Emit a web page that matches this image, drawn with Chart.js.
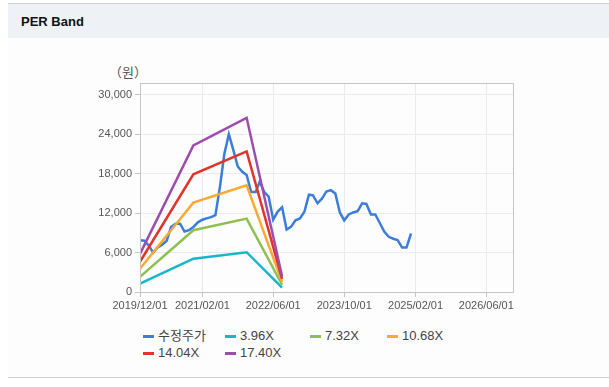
<!DOCTYPE html>
<html>
<head>
<meta charset="utf-8">
<script src="https://cdn.jsdelivr.net/npm/chart.js@4.4.1/dist/chart.umd.min.js"></script>
<style>
  body { margin: 0; background: #fff; font-family: "Liberation Sans", Arial, "Noto Sans CJK KR", sans-serif; }
  .box { position: absolute; left: 8px; top: 3px; width: 601px; height: 373px;
         border-top: 1px solid #d0d0d0; border-bottom: 1px solid #d0d0d0; background: #fdfdfd; }
  .head { height: 34px; background: #eef2f7; line-height: 36px; padding-left: 13px;
          font-weight: bold; font-size: 13px; color: #111; }
  #chartWrap { position: absolute; left: 0; top: 40px; width: 609px; height: 280px; }
  .unit { position: absolute; left: 109px; top: 62px; font-size: 13px; color: #555;
          font-family: "Noto Sans CJK KR", sans-serif; }
  .legend { position: absolute; left: 143px; top: 328px; display: grid;
            grid-template-columns: 82px 85px 77px auto; row-gap: 1px;
            font-size: 13px; color: #444; line-height: 16px; }
  .legend span.item { display: flex; align-items: center; white-space: nowrap; }
  .legend i { display: inline-block; width: 11px; height: 3px; margin-right: 4px; }
</style>
</head>
<body>
<div class="box"><div class="head">PER Band</div></div>
<div class="unit">（원）</div>
<div id="chartWrap"><canvas id="perBand" width="609" height="280"></canvas></div>
<div class="legend" id="legend"></div>

<script>
  // axis
  const xTickDates = ['2019/12/01', '2021/02/01', '2022/06/01', '2023/10/01', '2025/02/01', '2026/06/01'];
  const xMinDate = '2019/12/01';
  const xMaxDate = '2026/12/01';
  const yTicks = [0, 6000, 12000, 18000, 24000, 30000];

  // 수정주가, monthly from 2019/12
  const priceStart = '2019/12';
  const priceValues = [
    7870, 7800, 7000, 6000, 6800, 7200, 7800, 9900, 10400, 10400,
    9200, 9400, 9900, 10600, 11000, 11200, 11400, 11700, 16000, 21000,
    24000, 21600, 19100, 18300, 17800, 15200, 15200, 16800, 15200, 14500,
    11000, 12200, 12900, 9500, 9900, 10900, 11200, 12200, 14800, 14700,
    13500, 14200, 15300, 15500, 15000, 12100, 10900, 11800, 12100, 12300,
    13500, 13400, 11800, 11800, 10500, 9200, 8400, 8100, 7900, 6760,
    6760, 8900
  ];

  // PER band lines
  const bandDates = ['2019/12', '2020/12', '2021/12', '2022/08'];
  const band396 = [1290, 5070, 6050, 650];
  const band732 = [2300, 9400, 11170, 1100];
  const band1068 = [3550, 13600, 16250, 1550];
  const band1404 = [4600, 17900, 21400, 2000];
  const band1740 = [5800, 22300, 26500, 2400];

  const colors = {
    price: '#3a7ddb',
    b396: '#19b5c9',
    b732: '#8dc04f',
    b1068: '#f8aa35',
    b1404: '#e3342c',
    b1740: '#9c4dad'
  };

  function toDay(s) {
    const p = s.split('/').map(Number);
    return Date.UTC(p[0], p[1] - 1, p[2] || 1) / 86400000;
  }
  function dayLabel(d) {
    const dt = new Date(Math.round(d) * 86400000);
    const mm = String(dt.getUTCMonth() + 1).padStart(2, '0');
    const dd = String(dt.getUTCDate()).padStart(2, '0');
    return dt.getUTCFullYear() + '/' + mm + '/' + dd;
  }
  function monthKey(start, i) {
    const p = start.split('/').map(Number);
    const m = p[0] * 12 + (p[1] - 1) + i;
    return Math.floor(m / 12) + '/' + ((m % 12) + 1);
  }

  const pricePoints = priceValues.map((v, i) => ({ x: toDay(monthKey(priceStart, i)), y: v }));
  const bandPoints = vals => vals.map((v, i) => ({ x: toDay(bandDates[i]), y: v }));

  const line = (label, data, color) => ({
    label: label, data: data, borderColor: color, backgroundColor: color,
    borderWidth: 2.5, pointRadius: 0, tension: 0, fill: false
  });

  // bands first so that index 0.. draw on top of the price line
  const datasets = [
    line('17.40X', bandPoints(band1740), colors.b1740),
    line('14.04X', bandPoints(band1404), colors.b1404),
    line('10.68X', bandPoints(band1068), colors.b1068),
    line('7.32X', bandPoints(band732), colors.b732),
    line('3.96X', bandPoints(band396), colors.b396),
    line('수정주가', pricePoints, colors.price)
  ];

  // plot frame
  const frame = {
    id: 'frame',
    afterDraw(chart) {
      const a = chart.chartArea, c = chart.ctx;
      c.save();
      c.strokeStyle = '#c4c4c4';
      c.lineWidth = 1;
      c.strokeRect(Math.round(a.left) + 0.5, Math.round(a.top) + 0.5,
        Math.round(a.right - a.left), Math.round(a.bottom - a.top));
      c.restore();
    }
  };

  const tickFont = { family: '"Liberation Sans", Arial, sans-serif', size: 11 };

  new Chart(document.getElementById('perBand').getContext('2d'), {
    type: 'line',
    data: { datasets: datasets },
    options: {
      responsive: false,
      animation: false,
      parsing: true,
      layout: { padding: { top: 43, right: 96, left: 0, bottom: 0 } },
      plugins: { legend: { display: false }, tooltip: { enabled: false } },
      scales: {
        x: {
          type: 'linear',
          min: toDay(xMinDate),
          max: toDay(xMaxDate),
          afterBuildTicks: s => { s.ticks = xTickDates.map(d => ({ value: toDay(d) })); },
          afterFit: s => { s.height = 28; },
          grid: { color: '#ebebeb', tickLength: 5, tickColor: '#c4c4c4' },
          border: { color: '#c4c4c4' },
          ticks: { autoSkip: false, maxRotation: 0, padding: 2, color: '#555', font: tickFont,
                   callback: v => dayLabel(v) }
        },
        y: {
          min: 0,
          max: 31800,
          afterBuildTicks: s => { s.ticks = yTicks.map(v => ({ value: v })); },
          afterFit: s => { s.width = 140; },
          grid: { color: '#ebebeb', tickLength: 5, tickColor: '#c4c4c4' },
          border: { color: '#c4c4c4' },
          ticks: { padding: 3, color: '#555', font: tickFont,
                   callback: v => v.toLocaleString('en-US') }
        }
      }
    },
    plugins: [frame]
  });

  // legend in the reference's column layout
  const legendOrder = ['수정주가', '3.96X', '7.32X', '10.68X', '14.04X', '17.40X'];
  const legendEl = document.getElementById('legend');
  legendOrder.forEach(name => {
    const ds = datasets.find(d => d.label === name);
    const item = document.createElement('span');
    item.className = 'item';
    const mark = document.createElement('i');
    mark.style.background = ds.borderColor;
    item.appendChild(mark);
    item.appendChild(document.createTextNode(name));
    legendEl.appendChild(item);
  });
</script>
</body>
</html>
